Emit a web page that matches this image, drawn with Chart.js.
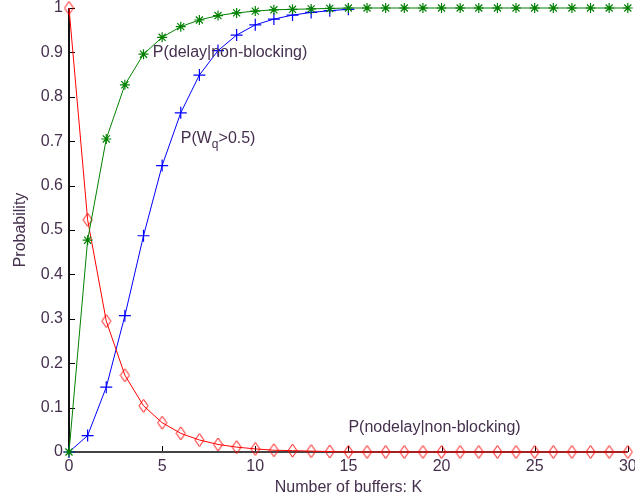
<!DOCTYPE html>
<html>
<head>
<meta charset="utf-8">
<script src="https://cdn.jsdelivr.net/npm/chart.js@4.4.1/dist/chart.umd.min.js"></script>
<style>
html,body{margin:0;padding:0;background:#fff;}
#wrap{width:635px;height:503px;position:relative;}
</style>
</head>
<body>
<div id="wrap"><canvas id="c" width="635" height="503"></canvas></div>
<script>
// ---- data ----
const bufferCounts = [0,1,2,3,4,5,6,7,8,9,10,11,12,13,14,15,16,17,18,19,20,21,22,23,24,25,26,27,28,29,30];
const pDelayNonBlocking = [0,0.477,0.705,0.827,0.896,0.934,0.958,0.973,0.983,0.989,0.993,0.996,0.997,0.998,0.999,1,1,1,1,1,1,1,1,1,1,1,1,1,1,1,1];
const pNoDelayNonBlocking = [1,0.523,0.295,0.173,0.104,0.066,0.042,0.027,0.017,0.011,0.007,0.004,0.003,0.002,0.001,0,0,0,0,0,0,0,0,0,0,0,0,0,0,0,0];
const bufferCountsWq = [0,1,2,3,4,5,6,7,8,9,10,11,12,13,14,15];
const pWqOver05 = [0,0.037,0.146,0.307,0.487,0.645,0.764,0.849,0.904,0.939,0.962,0.975,0.984,0.990,0.994,0.997];
const xTicks = [0,5,10,15,20,25,30];
const yTicks = [0,0.1,0.2,0.3,0.4,0.5,0.6,0.7,0.8,0.9,1];
const yTickLabels = ['0','0.1','0.2','0.3','0.4','0.5','0.6','0.7','0.8','0.9','1'];
const annotations = [
  {x:4.5, y:0.9, text:'P(delay|non-blocking)'},
  {x:6, y:0.705, text:'P(W', sub:'q', after:'>0.5)'},
  {x:15, y:0.054, text:'P(nodelay|non-blocking)'}
];
const xTitle = 'Number of buffers: K';
const yTitle = 'Probability';

const FONT = '"Liberation Sans", Arial, sans-serif';
const TEXT = '#45304d';

function pts(xs, ys){ return xs.map((x,i)=>({x:x, y:ys[i]})); }

// narrow diamond marker
const diamond = document.createElement('canvas');
diamond.width = 11; diamond.height = 15;
(function(){
  const g = diamond.getContext('2d');
  g.strokeStyle = '#ff0000'; g.lineWidth = 1;
  g.beginPath();
  g.moveTo(5.5,1); g.lineTo(10,7.5); g.lineTo(5.5,14); g.lineTo(1,7.5); g.closePath();
  g.stroke();
})();

const axesPlugin = {
  id:'axesPlugin',
  beforeDatasetsDraw(chart){
    const {ctx, chartArea:a, scales:{x, y}} = chart;
    ctx.save();
    ctx.strokeStyle = '#000'; ctx.lineWidth = 1;
    ctx.beginPath();
    xTicks.forEach(v=>{ const px = Math.round(x.getPixelForValue(v))+0.5; ctx.moveTo(px, a.bottom); ctx.lineTo(px, a.bottom-6); });
    yTicks.forEach(v=>{ const py = Math.round(y.getPixelForValue(v))+0.5; ctx.moveTo(a.left, py); ctx.lineTo(a.left+6, py); });
    ctx.stroke();
    ctx.lineWidth = 2;
    ctx.strokeStyle = '#111';
    ctx.beginPath();
    ctx.moveTo(a.left, a.top); ctx.lineTo(a.left, a.bottom+1);
    ctx.stroke();
    ctx.strokeStyle = '#444';
    ctx.beginPath();
    ctx.moveTo(a.left, a.bottom); ctx.lineTo(a.right, a.bottom);
    ctx.stroke();
    ctx.restore();
  },
  afterDatasetsDraw(chart){
    const {ctx, scales:{x, y}} = chart;
    ctx.save();
    ctx.fillStyle = TEXT;
    ctx.textBaseline = 'middle';
    ctx.textAlign = 'left';
    annotations.forEach(an=>{
      let px = x.getPixelForValue(an.x), py = y.getPixelForValue(an.y);
      ctx.font = '16px ' + FONT;
      ctx.fillText(an.text, px, py);
      if (an.sub){
        px += ctx.measureText(an.text).width;
        ctx.font = '12px ' + FONT;
        ctx.fillText(an.sub, px, py+6);
        px += ctx.measureText(an.sub).width;
        ctx.font = '16px ' + FONT;
        ctx.fillText(an.after, px, py);
      }
    });
    ctx.restore();
  }
};

new Chart(document.getElementById('c'), {
  type:'line',
  data:{
    datasets:[
      {label:'delay', data:pts(bufferCounts, pDelayNonBlocking), borderColor:'#008000', backgroundColor:'#008000',
       borderWidth:1, pointStyle:'star', pointRadius:5, pointBorderWidth:1.2, pointBorderColor:'#008000', fill:false, tension:0, order:0},
      {label:'nodelay', data:pts(bufferCounts, pNoDelayNonBlocking), borderColor:'#ff0000', backgroundColor:'#ff0000',
       borderWidth:1, pointStyle:diamond, pointRadius:6, fill:false, tension:0, order:1},
      {label:'wq', data:pts(bufferCountsWq, pWqOver05), borderColor:'#0000ff', backgroundColor:'#0000ff',
       borderWidth:1, pointStyle:'cross', pointRadius:6, pointBorderWidth:1.2, pointBorderColor:'#0000ff', fill:false, tension:0, order:2}
    ]
  },
  options:{
    responsive:false, animation:false, clip:false,
    layout:{padding:{top:8, right:7, left:0, bottom:0}},
    plugins:{legend:{display:false}, tooltip:{enabled:false}},
    elements:{point:{hoverRadius:6}},
    scales:{
      x:{type:'linear', min:0, max:30,
         afterBuildTicks(s){ s.ticks = xTicks.map(v=>({value:v})); },
         afterFit(s){ s.height = 51; s.paddingLeft = 0; s.paddingRight = 0; },
         grid:{display:false, drawTicks:false},
         border:{display:false},
         ticks:{color:TEXT, font:{family:FONT, size:16}, padding:5, maxRotation:0, autoSkip:false},
         title:{display:true, text:xTitle, color:TEXT, font:{family:FONT, size:16}, padding:{top:0,bottom:6}}
      },
      y:{type:'linear', min:0, max:1,
         afterBuildTicks(s){ s.ticks = yTicks.map(v=>({value:v})); },
         afterFit(s){ s.width = 69; s.paddingTop = 0; s.paddingBottom = 0; },
         grid:{display:false, drawTicks:false},
         border:{display:false},
         ticks:{color:TEXT, font:{family:FONT, size:16}, padding:6, autoSkip:false,
                callback(v, i){ return yTickLabels[i]; }},
         title:{display:true, text:yTitle, color:TEXT, font:{family:FONT, size:16}, padding:{top:11,bottom:0}}
      }
    }
  },
  plugins:[axesPlugin]
});
</script>
</body>
</html>
